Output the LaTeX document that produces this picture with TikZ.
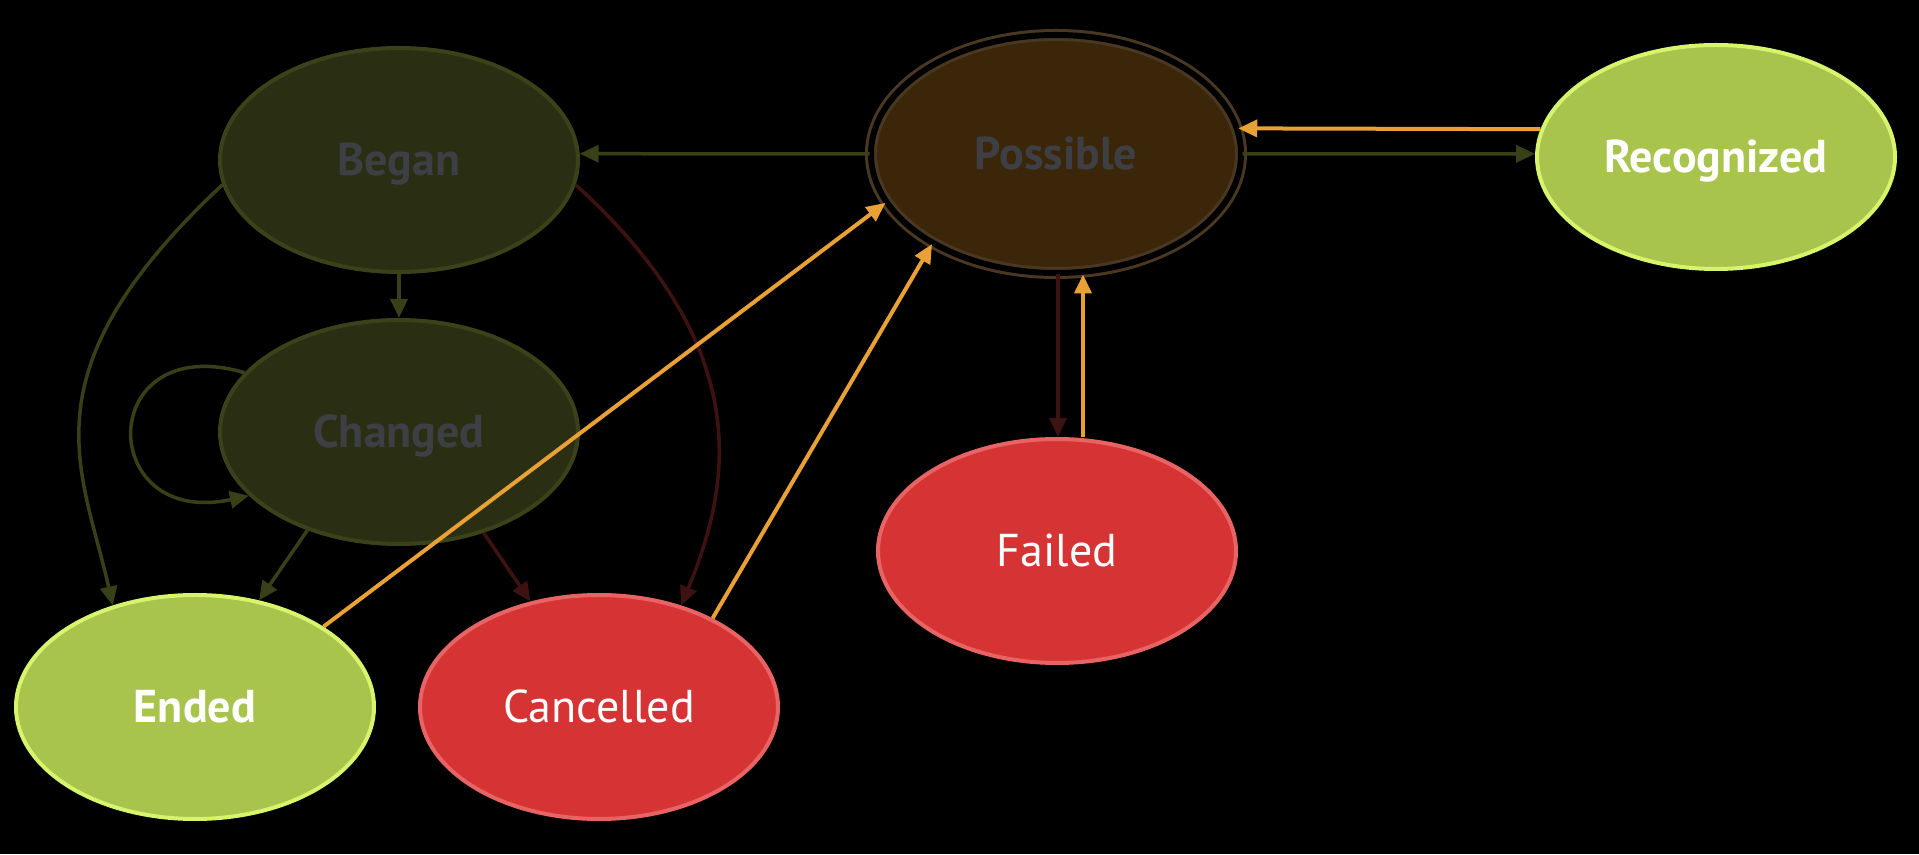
\documentclass[tikz,border=0pt]{standalone}
\usepackage{fontspec}
\setmainfont{PT Sans}
\usetikzlibrary{shapes.geometric,arrows.meta}
\definecolor{olivefill}{HTML}{2A2E13}
\definecolor{olivedraw}{HTML}{3B4219}
\definecolor{olivearrow}{HTML}{384017}
\definecolor{brownfill}{HTML}{3B2609}
\definecolor{browndraw}{HTML}{4A3822}
\definecolor{greytext}{HTML}{3E3F44}
\definecolor{limefill}{HTML}{A8C44C}
\definecolor{limedraw}{HTML}{D6F46C}
\definecolor{redfill}{HTML}{D63434}
\definecolor{reddraw}{HTML}{E86464}
\definecolor{darkred}{HTML}{3F1212}
\definecolor{orangearrow}{HTML}{E9A035}
\tikzset{
  state/.style={ellipse, minimum width=358pt, minimum height=224pt, inner sep=0pt,
    line width=4pt, font=\fontsize{46}{46}\selectfont, text height=32pt, text depth=0pt},
  dimstate/.style={state, fill=olivefill, draw=olivedraw, text=greytext, font=\fontsize{46}{46}\selectfont\bfseries},
  goodstate/.style={state, fill=limefill, draw=limedraw, text=white, font=\fontsize{46}{46}\selectfont\bfseries},
  badstate/.style={state, fill=redfill, draw=reddraw, text=white},
  possstate/.style={state, minimum width=370pt, minimum height=238pt, fill=brownfill,
    draw=browndraw, line width=3pt, double=black, double distance=6pt, text=greytext,
    font=\fontsize{46}{46}\selectfont\bfseries},
  tr/.style={line width=3.5pt, -{Triangle[length=19pt,width=17pt]}},
  olivetr/.style={tr, draw=olivearrow},
  redtr/.style={tr, draw=darkred},
  orangetr/.style={tr, line width=4pt, draw=orangearrow},
}
\begin{document}
\begin{tikzpicture}[x=1pt,y=1pt]
\fill[black] (0,0) rectangle (1919,854);
\useasboundingbox (0,0) rectangle (1919,854);

\node[dimstate] (began) at (399,694) {Began};
\node[dimstate] (changed) at (399,422) {Changed};
\node[possstate] (possible) at (1056,700) {Possible};
\node[goodstate] (recognized) at (1716,697) {Recognized};
\node[badstate] (failed) at (1057,303) {Failed};
\node[goodstate] (ended) at (195,147) {Ended};
\node[badstate] (cancelled) at (599,147) {Cancelled};

% dim transitions
\draw[olivetr] (possible.180) -- (began.2);
\draw[olivetr] (possible.0) -- (recognized.179);
\draw[olivetr] (began.south) -- (changed.north);
\draw[olivetr] (changed.159) .. controls (95,525) and (95,325) .. (changed.203);
\draw[olivetr] (began.188) .. controls (21,481) and (82,386) .. (ended.129);
\draw[olivetr] (changed.227) -- (ended.59);
\draw[redtr] (changed.310) -- (cancelled.123);
\draw[redtr] (began.352) .. controls (760,502) and (729,365) .. (cancelled.51);
\draw[redtr] ([xshift=2pt]possible.south) -- ([xshift=1pt]failed.north);

% active transitions
\draw[orangetr] (recognized.171) -- (possible.8);
\draw[orangetr] (ended.32) -- (possible.196);
\draw[orangetr] (cancelled.38) -- (possible.216);
\draw[orangetr] ([xshift=26pt]failed.north) -- ([xshift=27pt]possible.south);
\end{tikzpicture}
\end{document}
